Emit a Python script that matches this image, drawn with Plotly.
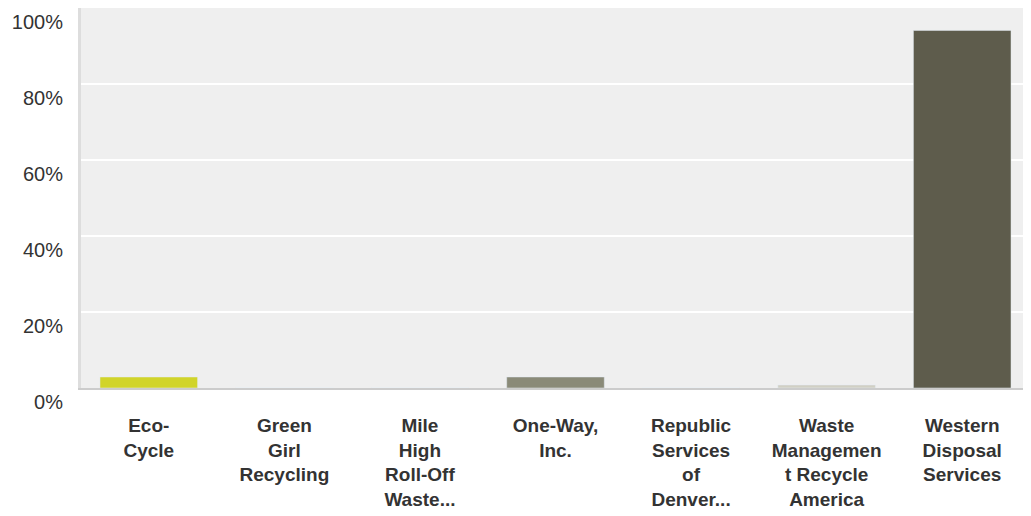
import plotly.graph_objects as go

providers = ['Eco-Cycle', 'Green Girl Recycling', 'Mile High Roll-Off Waste...', 'One-Way, Inc.',
             'Republic Services of Denver...', 'Waste Management Recycle America', 'Western Disposal Services']
tick_text = ['Eco-<br>Cycle', 'Green<br>Girl<br>Recycling', 'Mile<br>High<br>Roll-Off<br>Waste...',
             'One-Way,<br>Inc.', 'Republic<br>Services<br>of<br>Denver...',
             'Waste<br>Managemen<br>t Recycle<br>America', 'Western<br>Disposal<br>Services']
share = [2.9, 0, 0, 2.9, 0, 0.8, 94.1]
bar_colors = ['#D1D42A', '#B9BA7A', '#A3A48E', '#8A8A78', '#77766A', '#D1D0C4', '#5E5C4C']
y_ticks = [0, 20, 40, 60, 80, 100]
y_labels = ['0%', '20%', '40%', '60%', '80%', '100%']

fig = go.Figure(data=[
    go.Bar(x=providers, y=share, marker_color=bar_colors, width=0.72, hoverinfo='x+y'),
])

# page body has an 8px margin, so the figure is sized/offset to compensate
fig.update_layout(
    width=1023, height=508,
    margin=dict(l=73, r=1, t=0, b=128),
    paper_bgcolor='white', plot_bgcolor='#EFEFEF',
    showlegend=False,
    font=dict(family='Liberation Sans, Arial, sans-serif', color='#333333'),
)
fig.update_xaxes(
    tickmode='array', tickvals=providers, ticktext=tick_text,
    tickfont=dict(size=19, family='Liberation Sans, Arial, sans-serif', weight='bold', color='#333333'),
    showline=True, linecolor='#CCCCCC', linewidth=2,
    ticks='', ticklabelstandoff=19, showgrid=False, automargin=False,
)
fig.update_yaxes(
    range=[0, 100], tickmode='array', tickvals=y_ticks, ticktext=y_labels,
    tickfont=dict(size=20, color='#333333'),
    showline=True, linecolor='#DDDDDD', linewidth=3,
    gridcolor='white', gridwidth=2, zeroline=False, automargin=False,
    ticks='', ticklabelposition='outside bottom', ticklabelstandoff=11,
)

fig.write_html("out.html")
